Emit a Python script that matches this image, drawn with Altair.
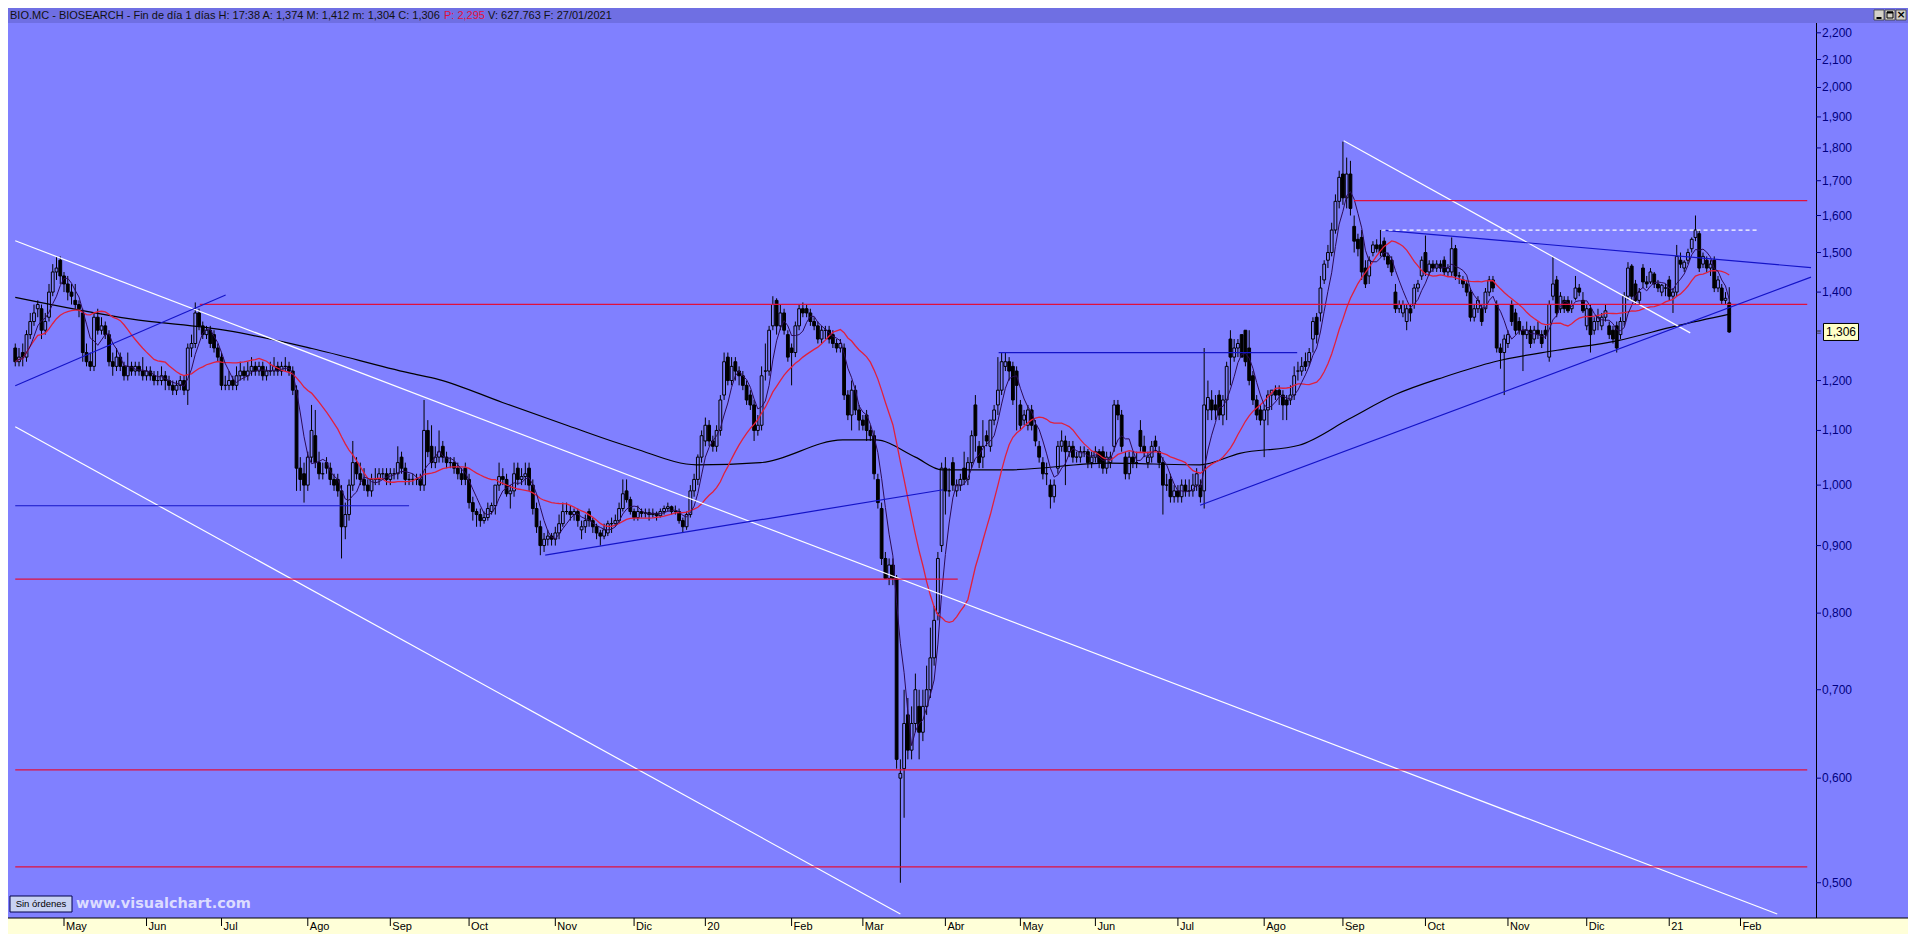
import altair as alt
import pandas as pd

# ---------------- data ----------------
opens = [
 1.27,1.24,1.26,1.25,1.30,1.33,1.36,1.36,1.31,1.34,
 1.40,1.45,1.48,1.44,1.42,1.40,1.38,1.37,1.35,1.26,
 1.24,1.23,1.34,1.31,1.32,1.30,1.24,1.23,1.25,1.23,
 1.21,1.23,1.22,1.23,1.22,1.21,1.22,1.21,1.20,1.20,
 1.21,1.20,1.19,1.18,1.19,1.20,1.18,1.27,1.28,1.35,
 1.32,1.30,1.31,1.30,1.27,1.25,1.19,1.19,1.20,1.19,
 1.21,1.22,1.21,1.22,1.23,1.22,1.23,1.21,1.22,1.22,
 1.23,1.22,1.23,1.23,1.22,1.18,1.03,1.02,1.00,1.05,
 1.09,1.04,1.02,1.04,1.03,1.01,1.01,0.99,0.93,0.95,
 1.00,1.04,1.02,1.01,1.00,0.99,1.01,1.01,1.02,1.02,
 1.01,1.02,1.02,1.05,1.03,1.01,1.01,1.01,1.01,1.00,
 1.10,1.07,1.04,1.05,1.07,1.05,1.04,1.04,1.03,1.02,
 1.03,1.01,0.97,0.955,0.95,0.94,0.945,0.955,0.965,1.00,
 1.015,1.01,0.985,0.99,1.03,1.01,1.015,1.03,1.00,0.96,
 0.93,0.90,0.91,0.915,0.91,0.92,0.935,0.955,0.955,0.95,
 0.955,0.925,0.93,0.955,0.94,0.93,0.92,0.915,0.92,0.935,
 0.935,0.94,0.96,0.99,0.975,0.955,0.945,0.955,0.952,0.953,
 0.95,0.952,0.948,0.955,0.96,0.963,0.955,0.955,0.94,0.93,
 0.95,0.99,1.01,1.05,1.08,1.11,1.08,1.07,1.10,1.17,
 1.25,1.20,1.24,1.22,1.21,1.19,1.17,1.15,1.10,1.11,
 1.22,1.22,1.32,1.38,1.32,1.35,1.30,1.27,1.26,1.32,
 1.36,1.36,1.35,1.33,1.32,1.29,1.31,1.31,1.30,1.28,
 1.27,1.27,1.17,1.13,1.18,1.14,1.12,1.13,1.10,1.09,
 1.01,0.96,0.88,0.85,0.87,0.85,0.60,0.61,0.67,0.63,
 0.66,0.68,0.65,0.68,0.70,0.74,0.80,0.90,1.03,0.99,
 1.04,0.99,1.00,1.03,1.01,1.04,1.15,1.07,1.05,1.09,
 1.07,1.12,1.15,1.18,1.23,1.24,1.23,1.22,1.15,1.12,
 1.11,1.14,1.11,1.07,1.04,1.02,1.00,0.98,1.03,1.07,
 1.08,1.06,1.07,1.05,1.05,1.06,1.06,1.04,1.05,1.06,
 1.06,1.03,1.04,1.07,1.15,1.13,1.05,1.02,1.05,1.04,
 1.10,1.07,1.04,1.05,1.08,1.06,1.04,1.00,1.01,0.98,
 0.99,0.98,1.00,0.99,0.99,1.00,1.00,0.99,1.14,1.16,
 1.15,1.17,1.13,1.16,1.29,1.25,1.27,1.30,1.31,1.27,
 1.21,1.16,1.14,1.12,1.14,1.17,1.18,1.18,1.17,1.16,
 1.16,1.17,1.22,1.22,1.24,1.24,1.29,1.34,1.35,1.43,
 1.48,1.50,1.56,1.64,1.72,1.65,1.72,1.57,1.535,1.54,
 1.46,1.44,1.50,1.52,1.52,1.53,1.49,1.48,1.40,1.36,
 1.35,1.33,1.36,1.37,1.41,1.44,1.50,1.45,1.47,1.46,
 1.47,1.48,1.45,1.45,1.51,1.44,1.43,1.42,1.40,1.34,
 1.36,1.36,1.36,1.40,1.43,1.37,1.27,1.26,1.28,1.37,
 1.35,1.33,1.31,1.30,1.31,1.29,1.31,1.30,1.31,1.25,
 1.39,1.43,1.36,1.38,1.38,1.36,1.385,1.41,1.38,1.32,
 1.36,1.31,1.33,1.32,1.34,1.32,1.31,1.32,1.30,1.33,
 1.39,1.465,1.42,1.38,1.46,1.425,1.425,1.445,1.42,1.40,
 1.41,1.43,1.39,1.40,1.48,1.46,1.48,1.51,1.54,1.55,
 1.47,1.48,1.46,1.48,1.41,1.41,1.38,1.374]
highs = [
 1.28,1.27,1.28,1.31,1.35,1.37,1.38,1.37,1.35,1.42,
 1.47,1.49,1.49,1.45,1.44,1.42,1.42,1.38,1.36,1.28,
 1.26,1.35,1.36,1.34,1.33,1.31,1.26,1.27,1.26,1.24,
 1.26,1.24,1.24,1.24,1.25,1.23,1.23,1.22,1.22,1.23,
 1.22,1.21,1.20,1.20,1.21,1.21,1.28,1.30,1.375,1.36,
 1.33,1.32,1.32,1.31,1.28,1.26,1.21,1.22,1.21,1.23,
 1.24,1.23,1.24,1.25,1.24,1.24,1.24,1.23,1.24,1.25,
 1.24,1.24,1.25,1.24,1.23,1.19,1.05,1.04,1.06,1.15,
 1.14,1.06,1.04,1.05,1.04,1.02,1.02,1.00,0.97,1.01,
 1.08,1.05,1.04,1.03,1.01,1.02,1.03,1.03,1.03,1.03,
 1.03,1.03,1.07,1.06,1.04,1.02,1.02,1.02,1.02,1.16,
 1.12,1.11,1.07,1.10,1.08,1.06,1.05,1.05,1.04,1.03,
 1.04,1.02,0.98,0.96,0.96,0.955,0.97,0.97,1.00,1.04,
 1.03,1.02,1.00,1.04,1.04,1.03,1.04,1.04,1.01,0.97,
 0.94,0.92,0.925,0.92,0.93,0.95,0.97,0.97,0.965,0.96,
 0.96,0.94,0.95,0.96,0.945,0.935,0.925,0.935,0.94,0.945,
 0.95,0.97,1.01,1.01,0.98,0.96,0.965,0.96,0.96,0.96,
 0.96,0.955,0.96,0.965,0.97,0.965,0.965,0.96,0.945,0.955,
 1.00,1.02,1.055,1.10,1.125,1.12,1.09,1.11,1.17,1.26,
 1.26,1.25,1.25,1.23,1.22,1.20,1.18,1.16,1.13,1.23,
 1.28,1.32,1.39,1.385,1.37,1.36,1.31,1.28,1.33,1.37,
 1.375,1.37,1.36,1.34,1.33,1.32,1.32,1.32,1.31,1.29,
 1.29,1.28,1.18,1.20,1.19,1.15,1.13,1.14,1.11,1.10,
 1.02,0.97,0.89,0.88,0.88,0.855,0.62,0.70,0.69,0.68,
 0.72,0.70,0.70,0.73,0.78,0.81,0.89,1.04,1.05,1.03,
 1.05,1.01,1.02,1.06,1.05,1.10,1.17,1.08,1.12,1.10,
 1.12,1.15,1.25,1.26,1.26,1.25,1.24,1.23,1.16,1.14,
 1.15,1.15,1.12,1.08,1.05,1.04,1.01,1.01,1.08,1.10,
 1.09,1.08,1.08,1.06,1.07,1.07,1.065,1.06,1.07,1.065,
 1.07,1.06,1.06,1.16,1.16,1.14,1.06,1.06,1.06,1.06,
 1.12,1.09,1.06,1.08,1.09,1.07,1.05,1.02,1.02,1.00,
 1.00,1.01,1.01,1.01,1.02,1.03,1.01,1.27,1.20,1.18,
 1.17,1.18,1.17,1.24,1.31,1.29,1.29,1.30,1.31,1.31,
 1.22,1.17,1.15,1.15,1.18,1.18,1.19,1.19,1.18,1.17,
 1.19,1.23,1.24,1.25,1.26,1.27,1.34,1.35,1.44,1.48,
 1.52,1.58,1.66,1.73,1.82,1.77,1.76,1.60,1.55,1.56,
 1.48,1.49,1.53,1.535,1.56,1.54,1.50,1.49,1.42,1.38,
 1.38,1.37,1.37,1.42,1.43,1.49,1.545,1.48,1.48,1.48,
 1.48,1.49,1.47,1.54,1.52,1.45,1.44,1.43,1.41,1.37,
 1.39,1.37,1.41,1.44,1.44,1.38,1.28,1.30,1.31,1.38,
 1.36,1.34,1.32,1.33,1.32,1.32,1.33,1.31,1.32,1.38,
 1.49,1.44,1.40,1.39,1.39,1.38,1.44,1.42,1.40,1.37,
 1.37,1.34,1.36,1.35,1.37,1.33,1.32,1.33,1.34,1.40,
 1.475,1.47,1.43,1.41,1.47,1.44,1.46,1.45,1.43,1.42,
 1.42,1.44,1.41,1.52,1.50,1.48,1.51,1.54,1.60,1.56,
 1.50,1.49,1.48,1.49,1.44,1.42,1.40,1.412]
lows = [
 1.23,1.23,1.23,1.24,1.29,1.32,1.34,1.29,1.30,1.33,
 1.39,1.43,1.42,1.40,1.38,1.37,1.36,1.34,1.24,1.23,
 1.22,1.22,1.30,1.30,1.29,1.23,1.21,1.22,1.22,1.20,
 1.20,1.21,1.21,1.21,1.20,1.20,1.20,1.19,1.19,1.19,
 1.18,1.18,1.17,1.17,1.18,1.17,1.15,1.25,1.27,1.31,
 1.29,1.29,1.27,1.26,1.24,1.18,1.18,1.18,1.18,1.18,
 1.20,1.20,1.20,1.21,1.21,1.21,1.20,1.20,1.21,1.21,
 1.21,1.21,1.22,1.21,1.17,0.99,0.99,0.97,0.99,1.04,
 1.03,1.01,1.01,1.02,1.00,0.99,0.98,0.88,0.91,0.94,
 0.99,1.01,1.00,0.99,0.98,0.98,1.00,1.00,1.01,1.00,
 1.00,1.01,1.01,1.02,1.00,1.00,1.00,1.00,0.99,0.99,
 1.05,1.03,1.03,1.04,1.04,1.03,1.03,1.02,1.01,1.00,
 1.00,0.96,0.94,0.93,0.93,0.935,0.94,0.95,0.95,0.99,
 1.00,0.98,0.96,0.98,1.00,1.00,1.00,0.99,0.95,0.92,
 0.885,0.89,0.90,0.90,0.90,0.91,0.93,0.95,0.94,0.94,
 0.93,0.91,0.92,0.93,0.92,0.91,0.90,0.91,0.915,0.92,
 0.93,0.935,0.955,0.97,0.95,0.94,0.94,0.945,0.945,0.94,
 0.945,0.94,0.945,0.95,0.955,0.95,0.95,0.935,0.92,0.925,
 0.945,0.98,1.00,1.04,1.07,1.07,1.06,1.06,1.09,1.16,
 1.19,1.19,1.20,1.19,1.18,1.15,1.14,1.08,1.09,1.10,
 1.20,1.21,1.31,1.30,1.31,1.30,1.24,1.19,1.25,1.31,
 1.34,1.34,1.32,1.31,1.28,1.28,1.29,1.28,1.27,1.26,
 1.26,1.16,1.12,1.10,1.13,1.10,1.10,1.08,1.08,1.01,
 0.96,0.87,0.85,0.84,0.84,0.61,0.50,0.56,0.62,0.62,
 0.65,0.62,0.64,0.67,0.69,0.73,0.79,0.89,0.95,0.98,
 0.99,0.98,0.99,1.00,1.00,1.03,1.06,1.03,1.03,1.07,
 1.06,1.11,1.13,1.17,1.22,1.20,1.15,1.10,1.10,1.11,
 1.10,1.10,1.07,1.04,1.01,1.00,0.96,0.97,1.02,1.06,
 1.00,1.05,1.04,1.04,1.04,1.05,1.03,1.03,1.04,1.03,
 1.02,1.02,1.03,1.06,1.12,1.06,1.01,1.01,1.03,1.03,
 1.06,1.05,1.03,1.04,1.06,1.03,0.95,0.99,0.97,0.97,
 0.97,0.97,0.98,0.98,0.98,0.99,0.97,0.96,1.12,1.12,
 1.12,1.12,1.11,1.12,1.19,1.24,1.25,1.26,1.23,1.19,
 1.15,1.12,1.11,1.05,1.11,1.14,1.16,1.15,1.12,1.12,
 1.15,1.16,1.20,1.21,1.22,1.23,1.26,1.28,1.33,1.42,
 1.46,1.49,1.55,1.62,1.63,1.62,1.60,1.50,1.49,1.43,
 1.41,1.42,1.49,1.50,1.49,1.48,1.46,1.44,1.35,1.35,
 1.34,1.31,1.33,1.36,1.40,1.43,1.44,1.44,1.45,1.45,
 1.45,1.44,1.44,1.44,1.43,1.42,1.41,1.39,1.33,1.33,
 1.35,1.32,1.35,1.39,1.40,1.26,1.225,1.17,1.27,1.32,
 1.30,1.30,1.22,1.29,1.27,1.28,1.29,1.27,1.29,1.24,
 1.38,1.34,1.35,1.35,1.35,1.35,1.38,1.39,1.35,1.31,
 1.26,1.30,1.31,1.31,1.33,1.29,1.28,1.26,1.29,1.32,
 1.38,1.38,1.37,1.37,1.41,1.41,1.42,1.41,1.40,1.39,
 1.39,1.38,1.35,1.39,1.46,1.45,1.47,1.50,1.53,1.45,
 1.46,1.45,1.44,1.40,1.40,1.37,1.37,1.304]
closes = [
 1.24,1.25,1.25,1.30,1.33,1.35,1.37,1.31,1.33,1.40,
 1.45,1.46,1.44,1.42,1.40,1.39,1.37,1.36,1.26,1.24,
 1.23,1.34,1.31,1.32,1.30,1.24,1.23,1.25,1.23,1.21,
 1.23,1.22,1.23,1.22,1.21,1.22,1.21,1.20,1.20,1.21,
 1.20,1.19,1.18,1.19,1.20,1.18,1.27,1.28,1.35,1.32,
 1.30,1.31,1.28,1.27,1.25,1.19,1.19,1.20,1.19,1.21,
 1.22,1.21,1.22,1.23,1.22,1.23,1.21,1.22,1.22,1.23,
 1.22,1.23,1.23,1.22,1.18,1.03,1.01,1.00,1.05,1.10,
 1.04,1.02,1.02,1.03,1.01,1.00,0.99,0.93,0.95,1.00,
 1.04,1.02,1.01,1.00,0.99,1.01,1.01,1.02,1.02,1.01,
 1.02,1.02,1.04,1.03,1.01,1.01,1.01,1.01,1.00,1.10,
 1.06,1.04,1.05,1.06,1.05,1.04,1.04,1.03,1.02,1.01,
 1.01,0.97,0.955,0.95,0.94,0.945,0.96,0.965,1.00,1.015,
 1.01,0.985,0.99,1.02,1.01,1.015,1.02,1.00,0.96,0.93,
 0.90,0.91,0.915,0.91,0.92,0.935,0.955,0.955,0.95,0.955,
 0.94,0.93,0.94,0.94,0.93,0.92,0.915,0.925,0.935,0.935,
 0.94,0.96,0.985,0.975,0.955,0.945,0.955,0.952,0.953,0.95,
 0.952,0.948,0.955,0.96,0.963,0.955,0.955,0.94,0.93,0.95,
 0.99,1.01,1.05,1.09,1.11,1.08,1.07,1.10,1.16,1.24,
 1.20,1.23,1.22,1.21,1.19,1.16,1.15,1.10,1.11,1.21,
 1.22,1.31,1.37,1.32,1.35,1.31,1.25,1.26,1.32,1.36,
 1.35,1.35,1.33,1.32,1.29,1.31,1.31,1.29,1.28,1.27,
 1.28,1.17,1.13,1.18,1.14,1.12,1.11,1.10,1.09,1.02,
 0.97,0.88,0.85,0.87,0.85,0.62,0.605,0.66,0.63,0.66,
 0.70,0.65,0.68,0.70,0.74,0.79,0.88,1.03,0.99,0.99,
 1.00,1.00,1.01,1.01,1.04,1.09,1.09,1.04,1.07,1.08,
 1.12,1.14,1.18,1.24,1.24,1.22,1.16,1.19,1.11,1.13,
 1.14,1.11,1.08,1.05,1.02,1.02,0.98,1.00,1.07,1.08,
 1.06,1.07,1.05,1.05,1.06,1.06,1.04,1.05,1.06,1.04,
 1.03,1.05,1.05,1.15,1.13,1.07,1.02,1.05,1.04,1.04,
 1.07,1.06,1.05,1.07,1.07,1.04,1.00,1.00,0.98,0.99,
 0.98,1.00,0.99,0.99,1.00,1.02,0.98,1.15,1.165,1.14,
 1.14,1.13,1.16,1.23,1.25,1.27,1.28,1.25,1.24,1.20,
 1.16,1.13,1.12,1.14,1.17,1.18,1.17,1.17,1.15,1.15,
 1.17,1.21,1.22,1.23,1.23,1.26,1.33,1.30,1.41,1.47,
 1.50,1.56,1.64,1.71,1.65,1.72,1.62,1.53,1.51,1.45,
 1.42,1.48,1.52,1.51,1.50,1.49,1.47,1.45,1.36,1.37,
 1.37,1.36,1.35,1.41,1.42,1.48,1.45,1.47,1.46,1.47,
 1.46,1.45,1.46,1.51,1.44,1.44,1.42,1.40,1.34,1.36,
 1.38,1.33,1.40,1.43,1.41,1.27,1.26,1.29,1.30,1.33,
 1.31,1.31,1.30,1.31,1.28,1.31,1.30,1.28,1.30,1.37,
 1.42,1.35,1.39,1.36,1.355,1.37,1.41,1.40,1.355,1.36,
 1.30,1.33,1.34,1.34,1.355,1.30,1.29,1.27,1.33,1.39,
 1.46,1.39,1.38,1.40,1.425,1.42,1.45,1.42,1.41,1.417,
 1.41,1.39,1.40,1.49,1.47,1.475,1.50,1.535,1.56,1.46,
 1.49,1.46,1.47,1.41,1.43,1.38,1.385,1.306]

month_idx = [13, 35, 55, 78, 100, 121, 144, 165, 184, 207, 226, 248,
             268, 288, 310, 333, 354, 376, 398, 419, 441, 460]
month_lab = ["May", "Jun", "Jul", "Ago", "Sep", "Oct", "Nov", "Dic", "20", "Feb", "Mar", "Abr",
             "May", "Jun", "Jul", "Ago", "Sep", "Oct", "Nov", "Dic", "21", "Feb"]

# long moving average (read point by point)
ma_long_i = [0, 30.7, 56.6, 79.1, 105, 113, 129.9, 147.4, 165.1, 181.7, 198.7, 220.6, 229.4,
             240, 247.1, 257.7, 264.8, 291.3, 315.9, 326.5, 342.3, 355.6, 368, 381.2, 394.4,
             411.1, 427, 442.9, 457.4]
ma_long_p = [1.387, 1.336, 1.309, 1.269, 1.216, 1.202, 1.155, 1.109, 1.066, 1.036, 1.04, 1.082, 1.082,
             1.05, 1.027, 1.027, 1.027, 1.039, 1.036, 1.057, 1.072, 1.122, 1.171, 1.208, 1.240,
             1.265, 1.286, 1.32, 1.348]

# drawn trend lines
tl_name = ["w1", "w2", "w3", "bdesc", "r164", "r137", "r085", "r061", "r052", "b097", "b126",
           "bsup19", "bapr19", "bsup20"]
tl_i0 = [0, 0, 354.2, 364.3, 356.9, 49.2, 0, 0, 0, 0, 262.2, 141.3, 0, 315.9]
tl_p0 = [1.531, 1.107, 1.823, 1.560, 1.642, 1.3705, 0.849, 0.6087, 0.514, 0.9647, 1.2597, 0.885, 1.189, 0.9655]
tl_i1 = [469.8, 236, 446.6, 478.8, 477.8, 477.8, 251.3, 477.8, 477.8, 105, 341.8, 247.4, 56.1, 478.8]
tl_p1 = [0.4735, 0.4735, 1.304, 1.461, 1.642, 1.3705, 0.849, 0.6087, 0.514, 0.9647, 1.2597, 0.992, 1.393, 1.437]
tl_col = ["#ffffff", "#ffffff", "#ffffff", "#1414c8", "#e0103c", "#e0103c", "#e0103c", "#e0103c",
          "#e0103c", "#1414c8", "#1414c8", "#1414c8", "#1414c8", "#1414c8"]
dash_i = [364.3, 464.6]
dash_p = [1.560, 1.560]

y_ticks = [0.5, 0.6, 0.7, 0.8, 0.9, 1.0, 1.1, 1.2, 1.4, 1.5, 1.6, 1.7, 1.8, 1.9, 2.0, 2.1, 2.2]
y_tick_lab = ["0,500", "0,600", "0,700", "0,800", "0,900", "1,000", "1,100", "1,200", "1,400",
              "1,500", "1,600", "1,700", "1,800", "1,900", "2,000", "2,100", "2,200"]
last_price = [1.306]

# ---------------- frames ----------------
df = pd.DataFrame({"i": list(range(len(closes))), "o": opens, "h": highs, "l": lows, "c": closes})
mdf = pd.DataFrame({"i": month_idx, "lab": month_lab})
ldf = pd.DataFrame({"i": ma_long_i, "p": ma_long_p})
ydf = pd.DataFrame({"p": y_ticks, "lab": y_tick_lab})
rows = []
for n, a, b, c2, d, col in zip(tl_name, tl_i0, tl_p0, tl_i1, tl_p1, tl_col):
    rows.append({"id": n, "k": 0, "i": a, "p": b, "col": col})
    rows.append({"id": n, "k": 1, "i": c2, "p": d, "col": col})
tdf = pd.DataFrame(rows)
ddf = pd.DataFrame({"i": dash_i, "p": dash_p})
one = pd.DataFrame({"p": last_price})

W, H = 1808, 895
BG = "#8080FF"
NAVY = "#000080"

xsc = alt.Scale(domain=[-0.6, 478.8], nice=False, zero=False)
ysc = alt.Scale(type="log", domain=[0.4702, 2.238], nice=False, zero=False)


def X(f="i:Q"):
    return alt.X(f, scale=xsc, axis=None, title=None)


def Y(f):
    return alt.Y(f, scale=ysc, axis=None, title=None)


pix = alt.Chart(pd.DataFrame({"a": [0]}))

title_bar = pix.mark_rect(fill="#6f6fe3").encode(
    x=alt.value(0), x2=alt.value(1900), y=alt.value(-15), y2=alt.value(0))
band = pix.mark_rect(fill="#FFFFD8").encode(
    x=alt.value(0), x2=alt.value(1900), y=alt.value(H), y2=alt.value(H + 16))
band_line = pix.mark_rule(color="black", strokeWidth=1).encode(
    x=alt.value(0), x2=alt.value(1900), y=alt.value(H))

mticks = alt.Chart(mdf).mark_rule(color="black", strokeWidth=1).encode(
    x=X(), y=alt.value(H), y2=alt.value(H + 8))
mlabels = alt.Chart(mdf).mark_text(align="left", baseline="middle", dx=2, font="Liberation Sans",
                                   fontSize=11, color="black").encode(
    x=X(), y=alt.value(H + 9), text="lab:N")

# right price axis
ydomain = pix.mark_rule(color="black", strokeWidth=1).encode(
    x=alt.value(W + 0.5), y=alt.value(0), y2=alt.value(H))
yticks = alt.Chart(ydf).mark_rule(color=NAVY, strokeWidth=1).encode(
    x=alt.value(W), x2=alt.value(W + 5), y=Y("p:Q"))
ylabels = alt.Chart(ydf).mark_text(align="left", baseline="middle", font="Liberation Sans",
                                   fontSize=12, color=NAVY).encode(
    x=alt.value(W + 6), y=Y("p:Q"), text="lab:N")

wicks = alt.Chart(df).mark_rule(color="black", strokeWidth=1).encode(
    x=X(), y=Y("l:Q"), y2="h:Q")
bodies = alt.Chart(df).mark_bar(size=2.8, stroke="black", strokeWidth=1).encode(
    x=X(), y=Y("o:Q"), y2="c:Q",
    fill=alt.condition("datum.c < datum.o", alt.value("black"), alt.value(BG)))

ma_long = alt.Chart(ldf).mark_line(color="black", strokeWidth=1.2, interpolate="monotone").encode(
    x=X(), y=Y("p:Q"))
ma20 = alt.Chart(df).transform_window(
    m="mean(c)", frame=[-19, 0], sort=[alt.SortField("i")]
).mark_line(color="#e0203c", strokeWidth=1.3).encode(x=X(), y=Y("m:Q"))
ma5 = alt.Chart(df).transform_window(
    m="mean(c)", frame=[-4, 0], sort=[alt.SortField("i")]
).mark_line(color="#2a0a55", strokeWidth=1).encode(x=X(), y=Y("m:Q"))

tlines = alt.Chart(tdf).mark_line(strokeWidth=1.2, clip=True).encode(
    x=X(), y=Y("p:Q"), detail="id:N", order="k:Q",
    color=alt.Color("col:N", scale=None))
dline = alt.Chart(ddf).mark_line(strokeWidth=1.3, color="white", strokeDash=[4, 3]).encode(
    x=X(), y=Y("p:Q"))

txt_kw = dict(align="left", baseline="middle", font="Liberation Sans", fontSize=11)
t1 = pix.mark_text(color="#111111", **txt_kw).encode(
    x=alt.value(2), y=alt.value(-7.5),
    text=alt.value("BIO.MC - BIOSEARCH - Fin de día 1 días H: 17:38 A: 1,374 M: 1,412 m: 1,304 C: 1,306"))
t2 = pix.mark_text(color="#e0103c", **txt_kw).encode(
    x=alt.value(436), y=alt.value(-7.5), text=alt.value("P: 2,295"))
t3 = pix.mark_text(color="#111111", **txt_kw).encode(
    x=alt.value(480), y=alt.value(-7.5), text=alt.value("V: 627.763 F: 27/01/2021"))

btn = pd.DataFrame({"x0": [1866, 1877, 1888], "x1": [1876, 1887, 1898]})
buttons = alt.Chart(btn).mark_rect(fill="#d4d0c8", stroke="#404040", strokeWidth=0.8).encode(
    x=alt.X("x0:Q", scale=None, axis=None), x2="x1:Q", y=alt.value(-13), y2=alt.value(-3))
b_min = pix.mark_rule(color="black", strokeWidth=2).encode(
    x=alt.value(1868.5), x2=alt.value(1873.5), y=alt.value(-5))
b_max = pix.mark_rect(fill="#d4d0c8", stroke="black", strokeWidth=1).encode(
    x=alt.value(1879), x2=alt.value(1885), y=alt.value(-11), y2=alt.value(-5))
b_max2 = pix.mark_rule(color="black", strokeWidth=2).encode(
    x=alt.value(1879), x2=alt.value(1885), y=alt.value(-10.5))
b_close = pix.mark_text(text="×", font="DejaVu Sans", fontSize=11, fontWeight="bold",
                        color="black", align="center", baseline="middle").encode(
    x=alt.value(1893), y=alt.value(-8))

sin_box = pix.mark_rect(fill="#c8d2f2", stroke="#00004a", strokeWidth=1).encode(
    x=alt.value(2), x2=alt.value(64), y=alt.value(H - 22), y2=alt.value(H - 6))
sin_txt = pix.mark_text(align="center", baseline="middle", font="Liberation Sans", fontSize=9.5,
                        color="black").encode(
    x=alt.value(33), y=alt.value(H - 14), text=alt.value("Sin órdenes"))
wm = pix.mark_text(align="left", baseline="middle", font="DejaVu Sans", fontSize=14.5,
                   fontWeight="bold", color="#dcdcff").encode(
    x=alt.value(68), y=alt.value(H - 14), text=alt.value("www.visualchart.com"))

last_box = alt.Chart(one).mark_point(
    shape="M-1,-0.486L1,-0.486L1,0.486L-1,0.486Z", size=1225, filled=True,
    fill="#FFFFC8", stroke="black", strokeWidth=1, opacity=1).encode(
    x=alt.value(1833), y=Y("p:Q"))
last_mark = alt.Chart(one).mark_text(align="center", baseline="middle", font="DejaVu Sans",
                                     fontSize=7, color="#303030").encode(
    x=alt.value(W + 3), y=Y("p:Q"), text=alt.value("≡"))
last_txt = alt.Chart(one).mark_text(align="center", baseline="middle", font="Liberation Sans",
                                    fontSize=12, color="black").encode(
    x=alt.value(1833), y=Y("p:Q"), text=alt.value("1,306"))

chart = alt.layer(
    title_bar, band, band_line, mticks, mlabels,
    wicks, bodies, ma_long, ma20, ma5, tlines, dline,
    ydomain, yticks, ylabels,
    t1, t2, t3, buttons, b_min, b_max, b_max2, b_close,
    sin_box, sin_txt, wm, last_box, last_mark, last_txt
).properties(
    width=W, height=H,
    padding={"left": 0, "top": 15, "right": 92, "bottom": 16},
    autosize=alt.AutoSizeParams(type="none"),
    background=BG
).configure_view(strokeWidth=0, fill=BG)

chart.save("out.html", embed_options={"renderer": "svg", "actions": False})
